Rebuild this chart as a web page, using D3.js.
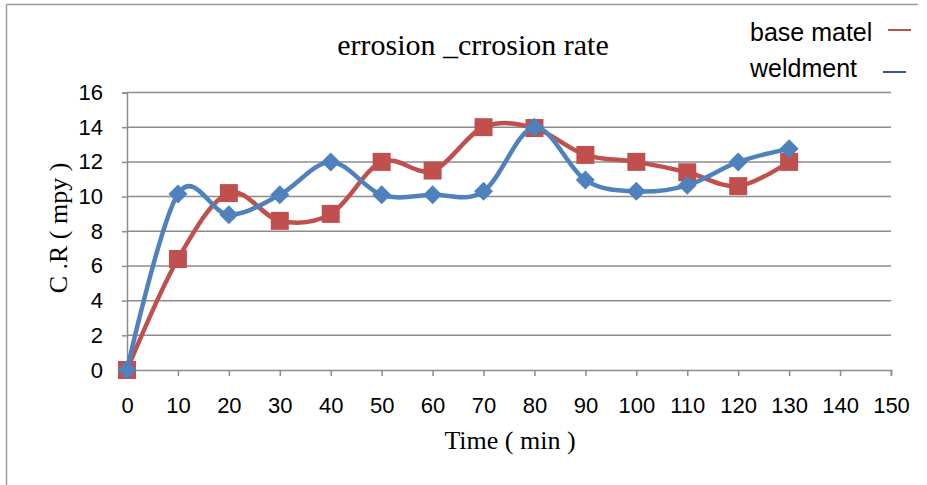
<!DOCTYPE html>
<html>
<head>
<meta charset="utf-8">
<script src="https://d3js.org/d3.v7.min.js"></script>
<style>
  body { margin: 0; background: #fff; }
</style>
</head>
<body>
<script>
// chart data
var times = [0, 10, 20, 30, 40, 50, 60, 70, 80, 90, 100, 110, 120, 130];
var baseMatel = [0, 6.4, 10.2, 8.6, 9.0, 12.0, 11.5, 14.0, 13.95, 12.4, 12.0, 11.4, 10.6, 12.0];
var weldment = [0, 10.15, 8.95, 10.1, 12.0, 10.1, 10.1, 10.3, 14.0, 10.95, 10.3, 10.65, 12.0, 12.75];
var xTicks = d3.range(0, 151, 10);
var yTicks = d3.range(0, 17, 2);
var seriesNames = ["base matel", "weldment"];

var w = 927;
var h = 485;

var svg = d3.select("body").append("svg")
    .attr("width", w)
    .attr("height", h);

// outer frame (only top and left edges show)
svg.append("line").attr("x1", 6.5).attr("x2", 918).attr("y1", 4.5).attr("y2", 4.5)
    .attr("stroke", "#9a9a9a").attr("stroke-width", 1.5);
svg.append("line").attr("x1", 6.5).attr("x2", 6.5).attr("y1", 4.5).attr("y2", h)
    .attr("stroke", "#9a9a9a").attr("stroke-width", 1.5);

// scales
var x = d3.scaleLinear().domain([0, 150]).range([127, 891]);
var y = d3.scaleLinear().domain([0, 16]).range([370, 92.5]);

// horizontal gridlines
svg.append("g").selectAll("line").data(yTicks.filter(function (d) { return d > 0; }))
    .enter().append("line")
    .attr("x1", x(0)).attr("x2", x(150))
    .attr("y1", function (d) { return y(d); })
    .attr("y2", function (d) { return y(d); })
    .attr("stroke", "#8c8c8c")
    .attr("stroke-width", 1.5);

// axes
var xAxis = svg.append("g")
    .attr("transform", "translate(0," + y(0) + ")")
    .call(d3.axisBottom(x).tickValues(xTicks).tickSize(6).tickPadding(21));
var yAxis = svg.append("g")
    .attr("transform", "translate(" + x(0) + ",0)")
    .call(d3.axisLeft(y).tickValues(yTicks).tickSize(5).tickPadding(19));

[xAxis, yAxis].forEach(function (ax) {
    ax.select(".domain").attr("stroke", "#8c8c8c").attr("stroke-width", 1.5);
    ax.selectAll(".tick line").attr("stroke", "#8c8c8c").attr("stroke-width", 1.5);
    ax.selectAll(".tick text")
        .attr("fill", "#000")
        .style("font-family", "'Liberation Sans', Arial, sans-serif")
        .style("font-size", "22px");
});

// smooth lines like Excel
var line = d3.line()
    .x(function (d) { return x(d[0]); })
    .y(function (d) { return y(d[1]); })
    .curve(d3.curveCatmullRom.alpha(0));

var red = "#C0504D";
var blue = "#4F81BD";
var redData = times.map(function (t, i) { return [t, baseMatel[i]]; });
var blueData = times.map(function (t, i) { return [t, weldment[i]]; });

// base matel
svg.append("path").datum(redData)
    .attr("d", line)
    .attr("fill", "none")
    .attr("stroke", red)
    .attr("stroke-width", 4.5);
svg.append("g").selectAll("rect").data(redData).enter().append("rect")
    .attr("x", function (d) { return x(d[0]) - 9; })
    .attr("y", function (d) { return y(d[1]) - 9; })
    .attr("width", 18)
    .attr("height", 18)
    .attr("fill", red);

// weldment
svg.append("path").datum(blueData)
    .attr("d", line)
    .attr("fill", "none")
    .attr("stroke", blue)
    .attr("stroke-width", 4.5);
svg.append("g").selectAll("path").data(blueData).enter().append("path")
    .attr("d", function (d) {
        var cx = x(d[0]), cy = y(d[1]), r = 9.5;
        return "M" + cx + "," + (cy - r) + "L" + (cx + r) + "," + cy +
            "L" + cx + "," + (cy + r) + "L" + (cx - r) + "," + cy + "Z";
    })
    .attr("fill", blue);

// title and axis labels
svg.append("text")
    .attr("x", 473).attr("y", 55)
    .attr("text-anchor", "middle")
    .style("font-family", "'Liberation Serif', 'Times New Roman', serif")
    .style("font-size", "30px")
    .text("errosion _crrosion rate");

svg.append("text")
    .attr("x", 510).attr("y", 449)
    .attr("text-anchor", "middle")
    .style("font-family", "'Liberation Serif', 'Times New Roman', serif")
    .style("font-size", "26px")
    .text("Time ( min )");

svg.append("text")
    .attr("transform", "translate(67,228) rotate(-90)")
    .attr("text-anchor", "middle")
    .style("font-family", "'Liberation Serif', 'Times New Roman', serif")
    .style("font-size", "26px")
    .text("C .R ( mpy )");

// legend
var legendColors = [red, "#2F5B9E"];
var legend = svg.append("g").selectAll("g").data(seriesNames).enter().append("g")
    .attr("transform", function (d, i) { return "translate(0," + (i * 36) + ")"; });
legend.append("text")
    .attr("x", 750).attr("y", 41)
    .style("font-family", "'Liberation Sans', Arial, sans-serif")
    .style("font-size", "25px")
    .text(function (d) { return d; });
legend.append("line")
    .attr("x1", function (d, i) { return i === 0 ? 888 : 883; })
    .attr("x2", function (d, i) { return i === 0 ? 911 : 906; })
    .attr("y1", function (d, i) { return i === 0 ? 30 : 36; })
    .attr("y2", function (d, i) { return i === 0 ? 30 : 36; })
    .attr("stroke", function (d, i) { return legendColors[i]; })
    .attr("stroke-width", 2);
</script>
</body>
</html>
